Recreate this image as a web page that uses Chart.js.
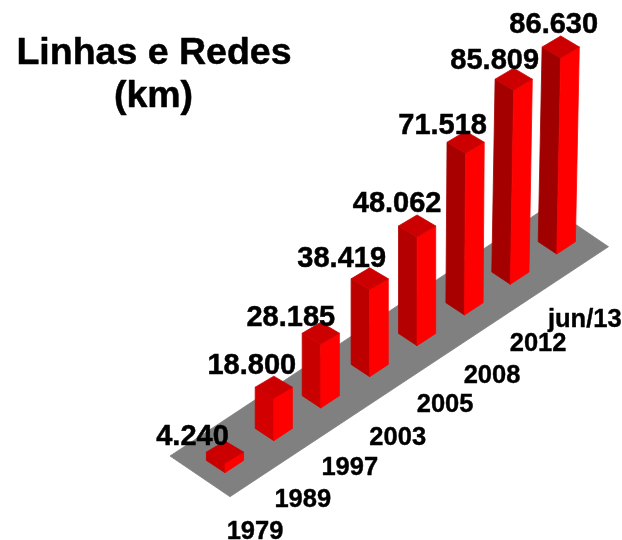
<!DOCTYPE html>
<html>
<head>
<meta charset="utf-8">
<style>html,body{margin:0;padding:0;background:#fff}canvas{display:block}</style>
<script src="https://cdn.jsdelivr.net/npm/chart.js@4"></script>
</head>
<body>
<canvas id="c" width="622" height="540"></canvas>
<script>
const categories = ['1979','1989','1997','2003','2005','2008','2012','jun/13'];
const lengthsKm = [4240,18800,28185,38419,48062,71518,85809,86630];
const valueLabels = ['4.240','18.800','28.185','38.419','48.062','71.518','85.809','86.630'];
const titleLines = ['Linhas e Redes','(km)'];

// projection of the oblique floor: how far each category sits along the depth direction
const floorRise = [0,32,64.7,96,127,157.7,188.4,218.7];
const floorNudgeX = [0,1.4,1,2.5,2.5,2.5,1,0];
const leanPerPx = [0,0,0,0,0,0.007,0.017,0.02];
const leftFaceColors = ['#c80000','#d20000','#c80000','#bc0000','#b40000','#a80000','#a40000','#a00000'];
const labelShiftX = [-32.5,-22,-30,-28,-20,-23,-19,-7];
const labelShiftY = [4,-2,3.5,-0.7,-3.3,3,1,-3];
const catShiftX = [30,29,29,28,28,27.5,27.7,28];
const catShiftY = [66,66,67,68,66,68,66.4,72.7];

const HALF_W = 18.6, DROP_TOP = 11, DROP_BOT = 12.3;
const FONT = '"Liberation Sans", Arial, sans-serif';

function poly(ctx, pts, fill){
  ctx.beginPath();
  pts.forEach((p,i)=> i ? ctx.lineTo(p[0],p[1]) : ctx.moveTo(p[0],p[1]));
  ctx.closePath();
  ctx.fillStyle = fill;
  ctx.strokeStyle = fill;
  ctx.lineWidth = 0.8;
  ctx.lineJoin = 'round';
  ctx.fill();
  ctx.stroke();
}

function heavyText(ctx, s, x, y, w){
  ctx.lineWidth = w;
  ctx.strokeStyle = '#000';
  ctx.strokeText(s, x, y);
  ctx.fillText(s, x, y);
}

const prismPlugin = {
  id:'prism',
  afterDatasetsDraw(chart){
    const ctx = chart.ctx;
    const els = chart.getDatasetMeta(0).data;
    const pos = els.map((el,i)=>{
      const x = el.x + floorNudgeX[i];
      const yb = el.base - floorRise[i];
      const yt = el.y - floorRise[i];
      return {x, yb, yt, xt: x + (yb-yt)*leanPerPx[i]};
    });
    ctx.save();
    // floor
    const a = pos[0], z = pos[pos.length-1];
    poly(ctx,[[a.x-55,a.yb-16.7],[a.x+5,a.yb+24],[z.x+51.7,z.yb-7.3],[z.x-8.3,z.yb-48]],'#808080');
    // prisms
    pos.forEach((p,i)=>{
      const lb=[p.x-HALF_W,p.yb-DROP_BOT], rb=[p.x+HALF_W,p.yb-DROP_BOT], fb=[p.x,p.yb];
      const lt=[p.xt-HALF_W,p.yt-DROP_TOP], rt=[p.xt+HALF_W,p.yt-DROP_TOP], ft=[p.xt,p.yt];
      const bt=[p.xt,p.yt-2*DROP_TOP];
      poly(ctx,[lb,fb,ft,lt],leftFaceColors[i]);
      poly(ctx,[fb,rb,rt,ft],'#ff0000');
      poly(ctx,[lt,ft,rt,bt],'#cc0000');
    });
    // texts
    ctx.fillStyle='#000';
    ctx.textAlign='center';
    ctx.textBaseline='alphabetic';
    ctx.font='bold 29px '+FONT;
    pos.forEach((p,i)=>{
      heavyText(ctx, valueLabels[i], p.xt+labelShiftX[i], p.yt-2*DROP_TOP+labelShiftY[i], 0.5);
    });
    ctx.font='bold 25.5px '+FONT;
    pos.forEach((p,i)=>{
      heavyText(ctx, categories[i], p.x+catShiftX[i], p.yb+catShiftY[i], 0.4);
    });
    ctx.font='bold 37.5px '+FONT;
    heavyText(ctx, titleLines[0],154,64,0.5);
    heavyText(ctx, titleLines[1],153.5,107,0.5);
    ctx.restore();
  }
};

new Chart(document.getElementById('c'),{
  type:'bar',
  data:{labels:categories,datasets:[{data:lengthsKm,backgroundColor:'rgba(0,0,0,0)',borderWidth:0,barThickness:37}]},
  options:{
    responsive:false,
    animation:false,
    events:[],
    layout:{padding:{left:201.3,right:41.5,top:20.2,bottom:67.3}},
    plugins:{legend:{display:false},tooltip:{enabled:false},title:{display:false}},
    scales:{
      x:{display:false,offset:true},
      y:{display:false,min:0,max:200000}
    }
  },
  plugins:[prismPlugin]
});
</script>
</body>
</html>
